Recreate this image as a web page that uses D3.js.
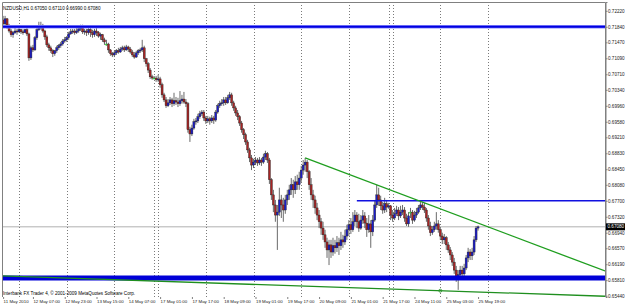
<!DOCTYPE html>
<html><head><meta charset="utf-8">
<script src="https://cdn.jsdelivr.net/npm/d3@7"></script>
<style>html,body{margin:0;padding:0;background:#fff;overflow:hidden}</style>
</head><body><svg id="c" width="625" height="307"></svg>
<script>
// ---------- data ----------
const symbolTitle = "NZDUSD,H1";
const lastOHLC = [0.67050, 0.67110, 0.66990, 0.67080];
const footerText = "Interbank FX Trader 4, \u00A9 2001-2009 MetaQuotes Software Corp.";

const open = [
0.7200,0.7191,0.7203,0.7186,0.7174,0.7165,0.7170,0.7174,0.7172,0.7177,
0.7172,0.7170,0.7177,0.7167,0.7110,0.7134,0.7129,0.7158,0.7177,0.7186,
0.7181,0.7174,0.7160,0.7141,0.7134,0.7127,0.7120,0.7127,0.7134,0.7139,
0.7143,0.7150,0.7153,0.7158,0.7167,0.7172,0.7174,0.7170,0.7174,0.7179,
0.7181,0.7172,0.7174,0.7170,0.7177,0.7170,0.7165,0.7174,0.7170,0.7162,
0.7165,0.7153,0.7143,0.7143,0.7129,0.7120,0.7117,0.7122,0.7127,0.7124,
0.7131,0.7134,0.7129,0.7136,0.7131,0.7124,0.7117,0.7112,0.7122,0.7127,
0.7129,0.7134,0.7108,0.7096,0.7081,0.7065,0.7062,0.7062,0.7058,0.7060,
0.7046,0.7022,0.7010,0.6996,0.7003,0.7010,0.7001,0.7008,0.7005,0.7001,
0.7008,0.7012,0.7005,0.7001,0.6939,0.6929,0.6943,0.6958,0.6960,0.6970,
0.6977,0.6981,0.6967,0.6960,0.6965,0.6960,0.6967,0.6962,0.6981,0.6996,
0.7001,0.7003,0.7010,0.7003,0.7015,0.7022,0.7003,0.6991,0.6979,0.6970,
0.6955,0.6939,0.6927,0.6910,0.6891,0.6872,0.6855,0.6862,0.6867,0.6860,
0.6867,0.6862,0.6874,0.6882,0.6867,0.6820,0.6784,0.6760,0.6736,0.6743,
0.6772,0.6760,0.6748,0.6772,0.6784,0.6796,0.6808,0.6796,0.6815,0.6808,
0.6824,0.6843,0.6855,0.6862,0.6839,0.6808,0.6784,0.6772,0.6753,0.6736,
0.6720,0.6705,0.6689,0.6672,0.6653,0.6665,0.6648,0.6663,0.6658,0.6670,
0.6663,0.6677,0.6672,0.6686,0.6701,0.6713,0.6701,0.6720,0.6736,0.6720,
0.6705,0.6724,0.6734,0.6717,0.6701,0.6715,0.6696,0.6724,0.6760,0.6784,
0.6772,0.6758,0.6748,0.6763,0.6755,0.6758,0.6736,0.6729,0.6739,0.6748,
0.6734,0.6743,0.6748,0.6729,0.6715,0.6743,0.6743,0.6724,0.6736,0.6743,
0.6753,0.6760,0.6755,0.6748,0.6729,0.6710,0.6694,0.6701,0.6710,0.6715,
0.6701,0.6686,0.6677,0.6682,0.6665,0.6653,0.6641,0.6624,0.6605,0.6586,
0.6594,0.6605,0.6596,0.6610,0.6634,0.6648,0.6639,0.6648,0.6677,0.6705];

const high = [
0.7210,0.7210,0.7205,0.7191,0.7179,0.7174,0.7181,0.7179,0.7181,0.7179,
0.7177,0.7179,0.7181,0.7170,0.7139,0.7141,0.7162,0.7181,0.7196,0.7196,
0.7191,0.7177,0.7165,0.7146,0.7139,0.7131,0.7129,0.7139,0.7143,0.7148,
0.7155,0.7160,0.7162,0.7172,0.7179,0.7179,0.7179,0.7181,0.7184,0.7189,
0.7189,0.7179,0.7179,0.7181,0.7181,0.7177,0.7179,0.7181,0.7174,0.7170,
0.7167,0.7158,0.7153,0.7146,0.7131,0.7124,0.7127,0.7131,0.7134,0.7136,
0.7139,0.7139,0.7141,0.7139,0.7136,0.7129,0.7124,0.7127,0.7131,0.7134,
0.7153,0.7139,0.7110,0.7100,0.7086,0.7070,0.7067,0.7067,0.7070,0.7065,
0.7051,0.7027,0.7017,0.7012,0.7017,0.7015,0.7027,0.7017,0.7015,0.7031,
0.7022,0.7029,0.7012,0.7005,0.6946,0.6951,0.6965,0.6967,0.6977,0.6984,
0.6986,0.6986,0.6972,0.6972,0.6970,0.6974,0.6972,0.6986,0.7001,0.7008,
0.7012,0.7017,0.7017,0.7022,0.7029,0.7027,0.7008,0.6996,0.6986,0.6974,
0.6960,0.6943,0.6932,0.6915,0.6896,0.6879,0.6870,0.6874,0.6872,0.6874,
0.6872,0.6882,0.6889,0.6886,0.6872,0.6824,0.6796,0.6772,0.6760,0.6801,
0.6784,0.6777,0.6784,0.6796,0.6808,0.6824,0.6820,0.6829,0.6832,0.6839,
0.6853,0.6867,0.6872,0.6867,0.6843,0.6824,0.6796,0.6782,0.6765,0.6748,
0.6729,0.6720,0.6701,0.6682,0.6677,0.6677,0.6682,0.6677,0.6686,0.6682,
0.6696,0.6689,0.6701,0.6713,0.6724,0.6729,0.6743,0.6748,0.6743,0.6739,
0.6736,0.6748,0.6743,0.6729,0.6736,0.6724,0.6736,0.6772,0.6808,0.6801,
0.6782,0.6767,0.6777,0.6772,0.6765,0.6760,0.6748,0.6753,0.6758,0.6755,
0.6758,0.6760,0.6755,0.6739,0.6743,0.6753,0.6748,0.6746,0.6753,0.6760,
0.6767,0.6767,0.6765,0.6753,0.6736,0.6720,0.6710,0.6720,0.6743,0.6724,
0.6705,0.6694,0.6691,0.6686,0.6672,0.6660,0.6648,0.6634,0.6615,0.6605,
0.6615,0.6615,0.6620,0.6641,0.6658,0.6655,0.6658,0.6686,0.6710,0.6711];

const low = [
0.7184,0.7186,0.7179,0.7170,0.7160,0.7158,0.7167,0.7165,0.7170,0.7167,
0.7165,0.7170,0.7162,0.7103,0.7105,0.7124,0.7127,0.7153,0.7174,0.7177,
0.7170,0.7153,0.7136,0.7127,0.7122,0.7112,0.7115,0.7122,0.7129,0.7134,
0.7139,0.7146,0.7148,0.7153,0.7165,0.7167,0.7165,0.7167,0.7170,0.7174,
0.7167,0.7165,0.7162,0.7165,0.7160,0.7158,0.7160,0.7162,0.7158,0.7153,
0.7148,0.7141,0.7139,0.7122,0.7115,0.7112,0.7112,0.7117,0.7120,0.7122,
0.7127,0.7124,0.7127,0.7124,0.7120,0.7112,0.7108,0.7110,0.7117,0.7122,
0.7124,0.7100,0.7089,0.7074,0.7060,0.7058,0.7060,0.7053,0.7053,0.7039,
0.7015,0.7005,0.6991,0.6993,0.6998,0.6993,0.6996,0.6998,0.6993,0.6996,
0.7001,0.7001,0.6993,0.6932,0.6910,0.6924,0.6939,0.6951,0.6955,0.6965,
0.6972,0.6960,0.6953,0.6955,0.6951,0.6955,0.6953,0.6958,0.6977,0.6991,
0.6996,0.6996,0.6998,0.7001,0.7010,0.6996,0.6984,0.6972,0.6962,0.6948,
0.6932,0.6917,0.6903,0.6884,0.6862,0.6843,0.6848,0.6855,0.6853,0.6855,
0.6853,0.6858,0.6867,0.6860,0.6810,0.6772,0.6743,0.6720,0.6653,0.6734,
0.6729,0.6720,0.6739,0.6760,0.6772,0.6784,0.6777,0.6786,0.6796,0.6796,
0.6815,0.6832,0.6839,0.6824,0.6796,0.6772,0.6753,0.6739,0.6724,0.6705,
0.6689,0.6677,0.6658,0.6634,0.6617,0.6634,0.6639,0.6644,0.6648,0.6641,
0.6653,0.6658,0.6665,0.6677,0.6686,0.6691,0.6696,0.6710,0.6705,0.6696,
0.6701,0.6715,0.6705,0.6684,0.6694,0.6658,0.6686,0.6720,0.6753,0.6758,
0.6748,0.6739,0.6741,0.6743,0.6751,0.6724,0.6720,0.6724,0.6734,0.6724,
0.6729,0.6736,0.6720,0.6710,0.6708,0.6729,0.6715,0.6720,0.6729,0.6739,
0.6748,0.6748,0.6741,0.6720,0.6701,0.6686,0.6689,0.6696,0.6701,0.6694,
0.6677,0.6667,0.6667,0.6653,0.6646,0.6629,0.6615,0.6596,0.6577,0.6558,
0.6584,0.6586,0.6589,0.6605,0.6624,0.6629,0.6629,0.6641,0.6672,0.6699];

const close = [
0.7191,0.7203,0.7186,0.7174,0.7165,0.7170,0.7174,0.7172,0.7177,0.7172,
0.7170,0.7177,0.7167,0.7110,0.7134,0.7129,0.7158,0.7177,0.7186,0.7181,
0.7174,0.7160,0.7141,0.7134,0.7127,0.7120,0.7127,0.7134,0.7139,0.7143,
0.7150,0.7153,0.7158,0.7167,0.7172,0.7174,0.7170,0.7174,0.7179,0.7181,
0.7172,0.7174,0.7170,0.7177,0.7170,0.7165,0.7174,0.7170,0.7162,0.7165,
0.7153,0.7148,0.7143,0.7129,0.7120,0.7117,0.7122,0.7127,0.7124,0.7131,
0.7134,0.7129,0.7136,0.7131,0.7124,0.7117,0.7112,0.7122,0.7127,0.7129,
0.7134,0.7108,0.7096,0.7081,0.7065,0.7062,0.7062,0.7058,0.7060,0.7046,
0.7022,0.7010,0.6996,0.7003,0.7010,0.7001,0.7008,0.7005,0.7001,0.7008,
0.7012,0.7005,0.7001,0.6939,0.6929,0.6943,0.6958,0.6960,0.6970,0.6977,
0.6981,0.6967,0.6960,0.6965,0.6960,0.6967,0.6962,0.6981,0.6996,0.7001,
0.7003,0.7010,0.7003,0.7015,0.7022,0.7003,0.6991,0.6979,0.6970,0.6955,
0.6939,0.6927,0.6910,0.6891,0.6872,0.6855,0.6862,0.6867,0.6860,0.6867,
0.6862,0.6874,0.6882,0.6867,0.6820,0.6784,0.6760,0.6736,0.6743,0.6772,
0.6760,0.6748,0.6772,0.6784,0.6796,0.6808,0.6796,0.6815,0.6808,0.6824,
0.6843,0.6855,0.6862,0.6839,0.6808,0.6784,0.6772,0.6753,0.6736,0.6720,
0.6705,0.6689,0.6672,0.6653,0.6665,0.6648,0.6663,0.6658,0.6670,0.6663,
0.6677,0.6672,0.6686,0.6701,0.6713,0.6701,0.6720,0.6736,0.6720,0.6705,
0.6724,0.6734,0.6717,0.6701,0.6715,0.6696,0.6724,0.6760,0.6784,0.6772,
0.6758,0.6748,0.6763,0.6755,0.6758,0.6736,0.6729,0.6739,0.6748,0.6734,
0.6743,0.6748,0.6729,0.6715,0.6734,0.6743,0.6724,0.6736,0.6743,0.6753,
0.6760,0.6755,0.6748,0.6729,0.6710,0.6694,0.6701,0.6710,0.6715,0.6701,
0.6686,0.6677,0.6682,0.6665,0.6653,0.6641,0.6624,0.6605,0.6586,0.6594,
0.6605,0.6596,0.6610,0.6634,0.6648,0.6639,0.6648,0.6677,0.6705,0.6708];

// bar index at which each trading day starts (period separators)
const daySeparators = [8,32,56,76,78,102,126,150,174,194,196,220,244];
// time axis labels (bar index, text)
const xLabelBars  = [0,15,31,47,63,79,95,111,127,143,159,175,191,207,223,239];
const xLabelTexts = ["11 May 2010","12 May 07:00","12 May 23:00","13 May 15:00","14 May 07:00",
  "17 May 01:00","17 May 17:00","18 May 09:00","19 May 01:00","19 May 17:00","20 May 09:00",
  "21 May 01:00","21 May 17:00","24 May 11:00","25 May 03:00","25 May 19:00"];
// price axis labels
const yTicks = [0.72220,0.71840,0.71470,0.71090,0.70710,0.70340,0.69960,0.69580,0.69210,
  0.68830,0.68450,0.68080,0.67700,0.67320,0.66940,0.66570,0.66190,0.65810,0.65440];
// drawn objects
const hLineTop = 0.7184;
const hLineBottom = 0.6586;
const resistanceBars = [178, 240];
const resistancePrices = [0.6770, 0.6770];
const trendUpperBars = [152, 189];
const trendUpperPrices = [0.6872, 0.6806];
const trendLowerBars = [0, 220];
const trendLowerPrices = [0.6591, 0.6556];
const bidPrice = 0.67080;

// ---------- drawing ----------
const svg = d3.select("#c");
const L = 2, R = 605, T = 2, B = 297;
const x = d3.scaleLinear().domain([8, 244]).range([19, 488]);
const y = d3.scaleLinear().domain([0.6541, 0.7243]).range([297, 2]);
const fmt = d3.format(".5f");
const FONT = "Liberation Sans, Arial, sans-serif";
const FS = 4.6;

svg.append("rect").attr("width", 625).attr("height", 307).attr("fill", "#fff");
svg.append("defs").append("clipPath").attr("id", "clip")
  .append("rect").attr("x", L).attr("y", T).attr("width", R - L).attr("height", B - T);
const plot = svg.append("g").attr("clip-path", "url(#clip)");

// bid line
plot.append("line").attr("x1", L).attr("x2", R).attr("y1", y(bidPrice)).attr("y2", y(bidPrice))
  .attr("stroke", "#b0b0b0").attr("stroke-width", 1);

// day separators
plot.selectAll("line.sep").data(daySeparators).join("line").attr("class", "sep")
  .attr("x1", d => Math.round(x(d)) + 0.5).attr("x2", d => Math.round(x(d)) + 0.5)
  .attr("y1", T).attr("y2", B)
  .attr("stroke", "#7a7a7a").attr("stroke-width", 1).attr("stroke-dasharray", "1,2");

// candles
const idx = d3.range(close.length);
const g = plot.append("g");
g.selectAll("line.wick").data(idx).join("line").attr("class", "wick")
  .attr("x1", i => x(i)).attr("x2", i => x(i))
  .attr("y1", i => y(high[i])).attr("y2", i => y(low[i]))
  .attr("stroke", "#6a6a6a").attr("stroke-width", 1);
g.selectAll("rect.body").data(idx).join("rect").attr("class", "body")
  .attr("x", i => x(i) - 1).attr("width", 2)
  .attr("y", i => y(Math.max(open[i], close[i])))
  .attr("height", i => Math.max(1, Math.abs(y(open[i]) - y(close[i]))))
  .attr("fill", i => close[i] > open[i] ? "#1c1cc8" : (close[i] < open[i] ? "#a82424" : "#33cc33"))
  .attr("stroke", i => close[i] === open[i] ? "#33cc33" : "#222")
  .attr("stroke-width", 0.4);

// horizontal lines
plot.append("line").attr("x1", L).attr("x2", R).attr("y1", y(hLineTop)).attr("y2", y(hLineTop))
  .attr("stroke", "#8a8aff").attr("stroke-width", 3.4);
plot.append("line").attr("x1", L).attr("x2", R).attr("y1", y(hLineTop)).attr("y2", y(hLineTop))
  .attr("stroke", "#0000e0").attr("stroke-width", 2);
plot.append("line").attr("x1", L).attr("x2", R).attr("y1", y(hLineBottom)).attr("y2", y(hLineBottom))
  .attr("stroke", "#0000d8").attr("stroke-width", 5);

function ray(bars, prices, extendLeft) {
  const x1 = x(bars[0]), y1 = y(prices[0]), x2 = x(bars[1]), y2 = y(prices[1]);
  const s = (y2 - y1) / (x2 - x1);
  const xs = extendLeft ? L : x1;
  return [xs, y1 + s * (xs - x1), R, y1 + s * (R - x1)];
}
const rs = ray(resistanceBars, resistancePrices, false);
plot.append("line").attr("x1", rs[0]).attr("y1", rs[1]).attr("x2", rs[2]).attr("y2", rs[3])
  .attr("stroke", "#1010e0").attr("stroke-width", 1.5);
const tu = ray(trendUpperBars, trendUpperPrices, false);
plot.append("line").attr("x1", tu[0]).attr("y1", tu[1]).attr("x2", tu[2]).attr("y2", tu[3])
  .attr("stroke", "#1f9e1f").attr("stroke-width", 1.3);
const tl = ray(trendLowerBars, trendLowerPrices, true);
plot.append("line").attr("x1", tl[0]).attr("y1", tl[1]).attr("x2", tl[2]).attr("y2", tl[3])
  .attr("stroke", "#1f8f1f").attr("stroke-width", 1.3);
plot.append("circle").attr("cx", x(trendLowerBars[1])).attr("cy", y(trendLowerPrices[1])).attr("r", 1.5)
  .attr("fill", "none").attr("stroke", "#1f8f1f").attr("stroke-width", 0.8);

// frame
svg.append("path").attr("d", `M${L+0.5},${B} V${T+0.5} H${R+0.5} V${B}`)
  .attr("fill", "none").attr("stroke", "#808080").attr("stroke-width", 1);

// price axis
const yAxis = d3.axisRight(y).tickValues(yTicks).tickFormat(fmt).tickSize(2).tickPadding(0.5);
const ya = svg.append("g").attr("transform", `translate(${R + 0.5},0)`).call(yAxis);
ya.select(".domain").attr("stroke", "#808080");
ya.selectAll(".tick line").attr("stroke", "#808080");
ya.selectAll(".tick text").attr("font-family", FONT).attr("font-size", FS).attr("fill", "#222");

// bid label
const bg = svg.append("g");
bg.append("rect").attr("x", R + 1).attr("y", y(bidPrice) - 3.5).attr("width", 19).attr("height", 7).attr("fill", "#000");
bg.append("text").attr("x", R + 2.5).attr("y", y(bidPrice)).attr("dy", "0.35em")
  .attr("font-family", FONT).attr("font-size", FS).attr("fill", "#fff").text(fmt(bidPrice));

// time axis
const xAxis = d3.axisBottom(x).tickValues(xLabelBars).tickFormat((d, i) => xLabelTexts[i]).tickSize(2).tickPadding(1);
const xa = svg.append("g").attr("transform", `translate(0,${B})`).call(xAxis);
xa.select(".domain").remove();
xa.selectAll(".tick line").attr("stroke", "#808080");
xa.selectAll(".tick text").attr("font-family", FONT).attr("font-size", 4.4).attr("fill", "#222")
  .attr("text-anchor", "start");

// title & footer
svg.append("text").attr("x", 3).attr("y", 10).attr("font-family", FONT).attr("font-size", FS).attr("fill", "#000")
  .text(symbolTitle + "  " + lastOHLC.map(fmt).join(" "));
svg.append("text").attr("x", 3).attr("y", 295).attr("font-family", FONT).attr("font-size", FS).attr("fill", "#000")
  .text(footerText);
</script></body></html>
